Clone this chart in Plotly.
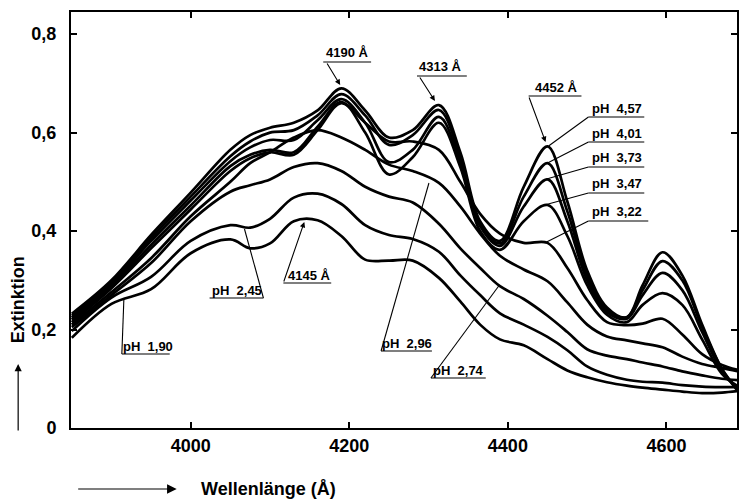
import plotly.graph_objects as go

# ---------------- data ----------------
wavelength = [3850, 3900, 3950, 4000, 4050, 4075, 4100, 4130, 4160, 4190, 4220, 4250, 4280, 4313,
              4340, 4365, 4390, 4420, 4450, 4475, 4500, 4525, 4550, 4570, 4595, 4620, 4645, 4670, 4690]

ph_457 = [0.232, 0.300, 0.392, 0.478, 0.565, 0.595, 0.610, 0.620, 0.645, 0.690, 0.645, 0.590, 0.605, 0.656,
          0.560, 0.420, 0.380, 0.490, 0.572, 0.460, 0.320, 0.245, 0.225, 0.290, 0.357, 0.310, 0.210, 0.120, 0.075]
ph_401 = [0.228, 0.296, 0.386, 0.470, 0.552, 0.582, 0.600, 0.605, 0.635, 0.678, 0.635, 0.575, 0.595, 0.646,
          0.550, 0.415, 0.375, 0.470, 0.538, 0.440, 0.310, 0.240, 0.225, 0.280, 0.339, 0.300, 0.205, 0.120, 0.078]
ph_373 = [0.224, 0.292, 0.380, 0.462, 0.542, 0.570, 0.585, 0.585, 0.625, 0.668, 0.620, 0.540, 0.565, 0.632,
          0.540, 0.410, 0.370, 0.450, 0.505, 0.420, 0.300, 0.235, 0.222, 0.270, 0.315, 0.280, 0.195, 0.115, 0.080]
ph_347 = [0.220, 0.288, 0.372, 0.452, 0.532, 0.555, 0.565, 0.560, 0.612, 0.662, 0.600, 0.515, 0.550, 0.620,
          0.530, 0.400, 0.362, 0.420, 0.453, 0.390, 0.290, 0.230, 0.215, 0.250, 0.274, 0.250, 0.180, 0.110, 0.085]
ph_322 = [0.215, 0.284, 0.365, 0.444, 0.522, 0.548, 0.560, 0.555, 0.605, 0.660, 0.620, 0.582, 0.582, 0.565,
          0.500, 0.435, 0.395, 0.376, 0.376, 0.325, 0.260, 0.215, 0.209, 0.212, 0.222, 0.190, 0.150, 0.128, 0.118]
ph_296 = [0.210, 0.276, 0.345, 0.430, 0.500, 0.538, 0.560, 0.590, 0.605, 0.590, 0.565, 0.535, 0.522, 0.498,
          0.450, 0.395, 0.350, 0.322, 0.298, 0.255, 0.210, 0.186, 0.178, 0.172, 0.164, 0.145, 0.130, 0.122, 0.115]
ph_274 = [0.205, 0.270, 0.335, 0.420, 0.480, 0.493, 0.505, 0.530, 0.538, 0.522, 0.490, 0.470, 0.458, 0.415,
          0.365, 0.325, 0.288, 0.262, 0.228, 0.195, 0.160, 0.147, 0.140, 0.133, 0.125, 0.115, 0.107, 0.100, 0.097]
ph_245 = [0.197, 0.265, 0.307, 0.380, 0.412, 0.407, 0.425, 0.468, 0.476, 0.455, 0.412, 0.392, 0.384, 0.358,
          0.310, 0.270, 0.233, 0.210, 0.185, 0.158, 0.125, 0.108, 0.098, 0.094, 0.092, 0.087, 0.084, 0.083, 0.083]
ph_190 = [0.183, 0.252, 0.282, 0.355, 0.383, 0.365, 0.375, 0.420, 0.422, 0.390, 0.342, 0.340, 0.340, 0.305,
          0.257, 0.210, 0.180, 0.168, 0.140, 0.117, 0.103, 0.093, 0.086, 0.082, 0.078, 0.074, 0.071, 0.072, 0.075]

series = [("pH 4,57", ph_457), ("pH 4,01", ph_401), ("pH 3,73", ph_373), ("pH 3,47", ph_347),
          ("pH 3,22", ph_322), ("pH 2,96", ph_296), ("pH 2,74", ph_274), ("pH 2,45", ph_245),
          ("pH 1,90", ph_190)]

y_ticks = [0, 0.2, 0.4, 0.6, 0.8]
y_ticktext = ["0", "0,2", "0,4", "0,6", "0,8"]
x_ticks = [4000, 4200, 4400, 4600]
x_ticktext = ["4000", "4200", "4400", "4600"]

# ---------------- layout helpers (pixel -> paper) ----------------
W, H = 739, 499
L, R, T, B = 71, 0, 12, 71
PW, PH = W - L - R, H - T - B


def PX(p):
    return (p - L) / PW


def PY(p):
    return (H - B - p) / PH


fig = go.Figure()
for name, vals in series:
    fig.add_trace(go.Scatter(x=wavelength, y=vals, mode="lines", name=name,
                             line=dict(color="black", width=2.7, shape="spline", smoothing=1.0),
                             showlegend=False, hoverinfo="x+y+name"))

FONT = "Liberation Sans, Arial, sans-serif"
shapes = []
annotations = []


def seg(x0, y0, x1, y1, w=1.1):
    shapes.append(dict(type="line", xref="paper", yref="paper", x0=PX(x0), y0=PY(y0),
                       x1=PX(x1), y1=PY(y1), line=dict(color="black", width=w)))


def text(t, cx, cy, size=13, bold=False, angle=0):
    annotations.append(dict(text=("<b>%s</b>" % t) if bold else t, xref="paper", yref="paper",
                            x=PX(cx), y=PY(cy), xanchor="center", yanchor="middle", showarrow=False,
                            textangle=angle, font=dict(family=FONT, size=size, color="black")))


def arrow(x0, y0, x1, y1, head=2, size=1.0, w=1.1):
    annotations.append(dict(text="", xref="paper", yref="paper", x=PX(x1), y=PY(y1),
                            ax=x0 - x1, ay=y0 - y1, axref="pixel", ayref="pixel",
                            showarrow=True, arrowhead=head, arrowsize=size, arrowwidth=w,
                            arrowcolor="black", standoff=0, startstandoff=0))


# wavelength labels with arrows
text("4190 Å", 348, 53, 13, bold=True)
seg(324, 62, 372, 62)
arrow(327, 62, 341, 85)
text("4313 Å", 442, 67, 13, bold=True)
seg(418, 76, 468, 76)
arrow(420, 76, 436, 101)
text("4452 Å", 558, 87, 13, bold=True)
seg(530, 96, 583, 96)
arrow(530, 96, 547, 142)
text("4145 Å", 310, 275, 13, bold=True)
seg(284, 283, 332, 283)
arrow(284, 283, 305, 222)

# pH labels with leaders
ph_labels = [
    ("pH  4,57", 619, 109, 590, 646, 117, 590, 117, 550, 146),
    ("pH  4,01", 619, 133, 590, 646, 142, 590, 142, 547, 164),
    ("pH  3,73", 619, 157, 590, 646, 167, 590, 167, 548, 179),
    ("pH  3,47", 619, 183, 590, 646, 193, 590, 193, 546, 205),
    ("pH  3,22", 619, 211, 590, 650, 221, 590, 221, 546, 243),
    ("pH  2,96", 408, 343, 382, 433, 351, 382, 351, 430, 183),
    ("pH  2,74", 460, 370, 432, 487, 378, 432, 378, 500, 286),
    ("pH  2,45", 237, 290, 210, 264, 298, 264, 298, 245, 229),
    ("pH  1,90", 148, 346, 122, 170, 354, 122, 354, 124, 300),
]
for t, cx, cy, ux0, ux1, uy, lx0, ly0, lx1, ly1 in ph_labels:
    text(t, cx, cy, 13, bold=True)
    seg(ux0, uy, ux1, uy)
    seg(lx0, ly0, lx1, ly1)

# axis titles with arrows
text("Extinktion", 18, 300, 18, bold=True, angle=-90)
arrow(18, 432, 18, 364, head=2, size=1.2, w=1.2)
text("Wellenlänge (Å)", 269, 489, 18, bold=True)
arrow(77, 489, 177, 489, head=2, size=1.6, w=1.2)

fig.update_layout(
    width=W, height=H, margin=dict(l=L, r=R, t=T, b=B, pad=0),
    paper_bgcolor="white", plot_bgcolor="white",
    shapes=shapes, annotations=annotations, showlegend=False,
    xaxis=dict(range=[3849, 4689], tickvals=x_ticks, ticktext=x_ticktext, ticks="inside",
               ticklen=6, tickwidth=1.5, tickcolor="black", showline=True, linecolor="black",
               linewidth=2, mirror="ticks", showgrid=False, zeroline=False, ticklabelstandoff=0,
               tickfont=dict(family=FONT, size=18, color="black", weight="bold")),
    yaxis=dict(range=[0, 0.845], tickvals=y_ticks, ticktext=y_ticktext, ticks="inside",
               ticklen=6, tickwidth=1.5, tickcolor="black", showline=True, linecolor="black",
               linewidth=2, mirror="ticks", showgrid=False, zeroline=False, ticklabelstandoff=9,
               tickfont=dict(family=FONT, size=18, color="black", weight="bold")),
)

fig.write_html("out.html")
